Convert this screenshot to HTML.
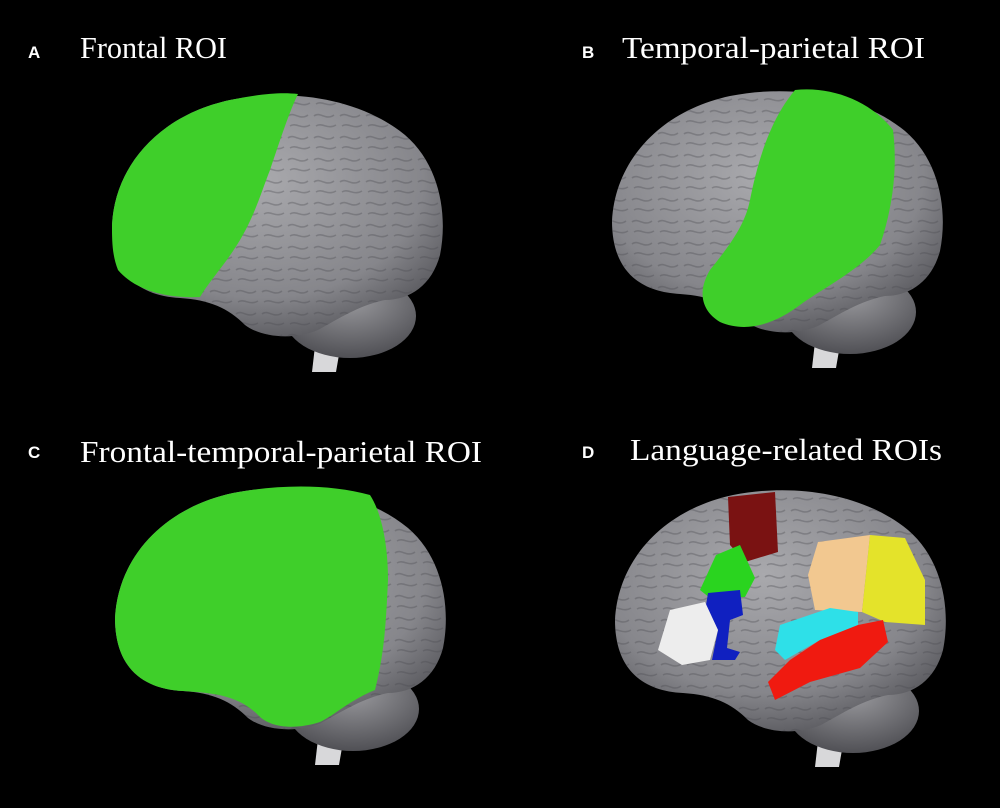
<!DOCTYPE html>
<html><head><style>
body{margin:0;background:#000;width:1000px;height:808px;overflow:hidden}
svg{display:block}
.l{font-family:"Liberation Sans",sans-serif;font-weight:bold;font-size:17px;fill:#fff}
.t{font-family:"Liberation Serif",serif;font-size:31px;fill:#fff}
</style></head><body>
<svg width="1000" height="808" viewBox="0 0 1000 808">
<defs>
<radialGradient id="g" cx="45%" cy="35%" r="70%">
<stop offset="0" stop-color="#a9a9ad"/><stop offset="0.7" stop-color="#86868b"/><stop offset="1" stop-color="#55555a"/></radialGradient>
<radialGradient id="gc" cx="50%" cy="30%" r="70%">
<stop offset="0" stop-color="#9a9a9e"/><stop offset="1" stop-color="#505055"/></radialGradient>
<pattern id="tx" width="26" height="22" patternUnits="userSpaceOnUse">
<path d="M2 6 C8 1 14 11 22 5 M4 16 C10 12 16 20 24 15" stroke="#4a4a50" stroke-width="1.6" fill="none" opacity="0.35"/>
</pattern>
<g id="brain">
<path d="M318 320 L312 372 L336 372 L345 320 Z" fill="#d8d8da"/>
<ellipse cx="350" cy="316" rx="66" ry="42" fill="url(#gc)"/>
<path d="M112 225 C115 165 160 115 230 100 C290 88 360 98 405 135 C440 165 448 215 440 255 C432 285 410 300 385 300 C360 305 340 318 318 330 C295 340 262 338 245 325 C228 308 210 300 180 298 C140 296 112 275 112 225 Z" fill="url(#g)"/>
<path d="M112 225 C115 165 160 115 230 100 C290 88 360 98 405 135 C440 165 448 215 440 255 C432 285 410 300 385 300 C360 305 340 318 318 330 C295 340 262 338 245 325 C228 308 210 300 180 298 C140 296 112 275 112 225 Z" fill="url(#tx)"/>
</g>
</defs>

<text class="l" x="28" y="58">A</text>
<text class="t" x="80" y="58" textLength="147" lengthAdjust="spacingAndGlyphs">Frontal ROI</text>
<text class="l" x="582" y="58">B</text>
<text class="t" x="622" y="58" textLength="303" lengthAdjust="spacingAndGlyphs">Temporal-parietal ROI</text>
<text class="l" x="28" y="458">C</text>
<text class="t" x="80" y="462" textLength="402" lengthAdjust="spacingAndGlyphs">Frontal-temporal-parietal ROI</text>
<text class="l" x="582" y="458">D</text>
<text class="t" x="630" y="460" textLength="312" lengthAdjust="spacingAndGlyphs">Language-related ROIs</text>

<use href="#brain"/>
<path d="M112 225 C115 165 160 115 230 100 C260 94 280 92 298 94 C290 110 280 140 270 170 C262 190 255 215 240 240 C225 265 210 280 200 297 C180 298 140 296 118 270 C112 255 112 240 112 225 Z" fill="#3fcf2a"/>

<use href="#brain" transform="translate(500,-4)"/>
<path d="M795 90 C830 86 870 100 893 130 C898 170 892 210 880 245 C860 270 820 290 800 305 C780 320 750 335 720 322 C700 310 698 290 710 270 C730 245 745 225 750 200 C758 160 770 120 795 90 Z" fill="#3fcf2a"/>

<use href="#brain" transform="translate(3,393)"/>
<path d="M115 618 C118 558 163 508 233 493 C280 484 330 484 370 495 C380 510 388 540 388 580 C386 620 385 650 375 690 C350 700 335 715 320 722 C295 730 270 728 258 715 C238 695 213 693 183 691 C143 689 115 668 115 618 Z" fill="#3fcf2a"/>

<use href="#brain" transform="translate(503,395)"/>
<path d="M728 497 L775 492 L778 552 L745 562 L730 545 Z" fill="#7a1212"/>
<path d="M716 555 L740 545 L755 578 L745 597 L710 598 L700 590 Z" fill="#2ad41f"/>
<path d="M708 593 L740 590 L743 615 L730 620 L727 648 L740 652 L735 660 L712 660 L718 630 L706 605 Z" fill="#1020c0"/>
<path d="M670 610 L705 602 L718 630 L710 660 L682 665 L658 650 Z" fill="#ededed"/>
<path d="M818 542 L870 535 L862 612 L815 610 L808 575 Z" fill="#f2c890"/>
<path d="M870 535 L905 538 L925 580 L925 625 L885 622 L862 612 Z" fill="#e4e32a"/>
<path d="M780 625 L830 608 L858 612 L858 625 L820 640 L785 660 L775 650 Z" fill="#2ee0e8"/>
<path d="M820 640 L858 625 L883 620 L888 642 L860 668 L810 682 L775 700 L768 682 L790 660 Z" fill="#f01a10"/>
</svg>
</body></html>
